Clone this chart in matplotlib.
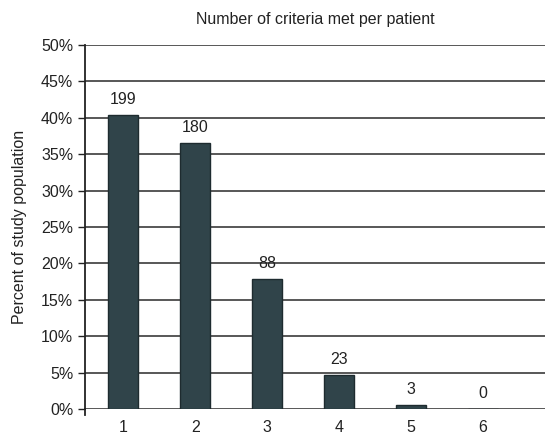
import matplotlib
matplotlib.use("Agg")
import matplotlib.pyplot as plt
from matplotlib.ticker import PercentFormatter

# criteria met per patient
criteria = [1, 2, 3, 4, 5, 6]
pct = [40.4, 36.5, 17.8, 4.7, 0.6, 0.0]
counts = [199, 180, 88, 23, 3, 0]
yticks = [0, 5, 10, 15, 20, 25, 30, 35, 40, 45, 50]

plt.rcParams['font.family'] = ['Liberation Sans', 'DejaVu Sans']
txt = '#222222'
fs = 11.5

fig = plt.figure(figsize=(5.45, 4.37), dpi=100)
ax = fig.add_axes([0.156, 0.064, 0.844, 0.833])

ax.set_axisbelow(True)
ax.yaxis.grid(True, color='#4a4a4a', linewidth=1.3)
bars = ax.bar(criteria, pct, width=0.42, color='#30444a', edgecolor='#1e2b2f', linewidth=1)
for b, n in zip(bars, counts):
    ax.text(b.get_x() + b.get_width() / 2, b.get_height() + 1.1, str(n),
            ha='center', va='bottom', fontsize=fs, color=txt)

ax.set_xlim(0.47, 6.86)
ax.set_ylim(0, 50)
ax.set_yticks(yticks)
ax.yaxis.set_major_formatter(PercentFormatter(decimals=0))
ax.set_xticks(criteria)
ax.tick_params(axis='both', labelsize=fs, colors=txt, length=5, width=1)
ax.tick_params(axis='x', length=0, pad=8)
for s in ['top', 'right', 'bottom']:
    ax.spines[s].set_visible(False)
ax.spines['left'].set_color('#222222')
ax.spines['left'].set_linewidth(1.3)
# little stub of the y axis below zero
ax.plot([0, 0], [0, -0.017], transform=ax.transAxes, clip_on=False, color='#222222', lw=1.3)

ax.set_title('Number of criteria met per patient', fontsize=fs, color=txt, pad=15)
ax.set_ylabel('Percent of study population', fontsize=fs, color=txt, labelpad=10)

plt.savefig('out.png', dpi=100)
